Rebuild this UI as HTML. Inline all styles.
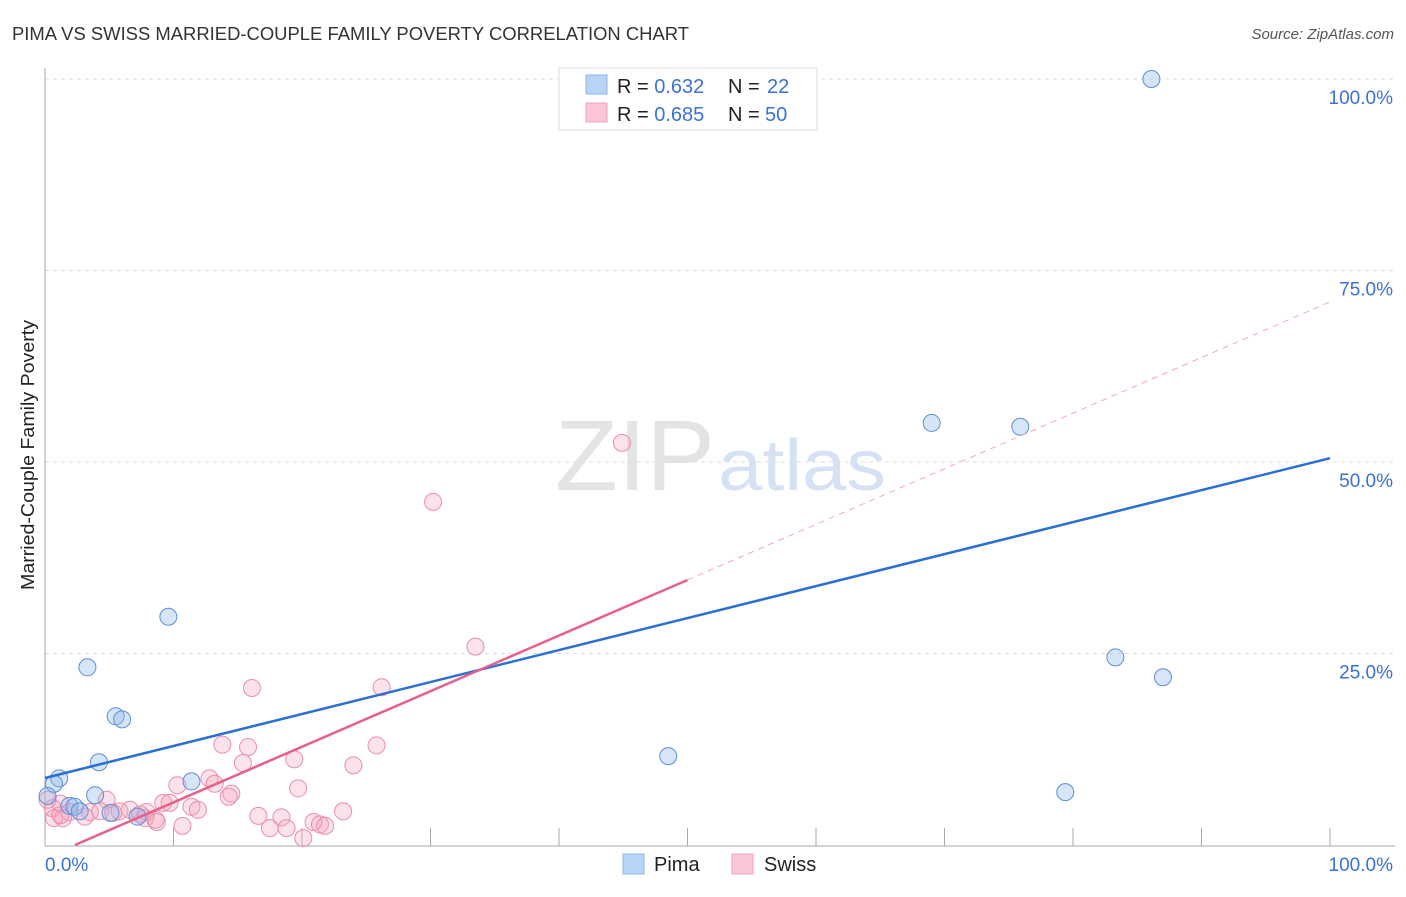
<!DOCTYPE html>
<html><head><meta charset="utf-8"><style>
body{margin:0;background:#fff;font-family:"Liberation Sans",sans-serif}
svg text{font-family:"Liberation Sans",sans-serif}
</style></head><body>
<svg id="c" width="1406" height="892" xmlns="http://www.w3.org/2000/svg">
<text x="12" y="40" font-size="18" fill="#333" textLength="677" lengthAdjust="spacingAndGlyphs">PIMA VS SWISS MARRIED-COUPLE FAMILY POVERTY CORRELATION CHART</text>
<text x="1394" y="39" font-size="15" fill="#555" font-style="italic" text-anchor="end">Source: ZipAtlas.com</text>
<text x="34" y="455" font-size="18" fill="#222" text-anchor="middle" textLength="270" lengthAdjust="spacingAndGlyphs" transform="rotate(-90 34 455)">Married-Couple Family Poverty</text>
<text x="555" y="490" font-size="100" fill="#e4e4e4" textLength="160" lengthAdjust="spacingAndGlyphs" font-family="Liberation Serif">ZIP</text>
<text x="718" y="490" font-size="72" fill="#d6e2f4" textLength="168" lengthAdjust="spacingAndGlyphs">atlas</text>
<g id="grid"></g><g id="pts"></g><g id="lines"></g>
<g>
<rect x="559" y="68" width="258" height="62" fill="#fff" stroke="#ddd"/>
<rect x="586" y="75" width="21" height="19" fill="#b8d3f5" stroke="#8fb4e8"/>
<rect x="586" y="103" width="21" height="19" fill="#f8c6d4" stroke="#eea6bc"/>
<text x="617" y="93" font-size="20" fill="#222">R = <tspan fill="#3a72d6">0.632</tspan><tspan x="728">N = </tspan><tspan x="767" fill="#3a72d6">22</tspan></text>
<text x="617" y="121" font-size="20" fill="#222">R = <tspan fill="#3a72d6">0.685</tspan><tspan x="728">N = </tspan><tspan x="765" fill="#3a72d6">50</tspan></text>
</g>
<g>
<rect x="623" y="854" width="21" height="20" fill="#b8d3f5" stroke="#8fb4e8"/>
<text x="654" y="871" font-size="20" fill="#222">Pima</text>
<rect x="732" y="854" width="21" height="20" fill="#f8c6d4" stroke="#eea6bc"/>
<text x="764" y="871" font-size="20" fill="#222">Swiss</text>
</g>
</svg>
<script>
const pimaX=[86.1,69.0,75.9,83.3,87.0,48.5,79.4,9.6,3.3,5.5,6.0,4.2,1.1,0.7,0.2,3.9,1.9,2.3,2.7,5.1,7.2,11.4];
const pimaY=[100,55.1,54.6,24.5,21.9,11.6,6.9,29.8,23.2,16.8,16.4,10.8,8.7,8.0,6.4,6.5,5.1,5.0,4.4,4.2,3.7,8.3];
const swissX=[44.9,30.2,33.5,16.1,26.2,13.8,15.8,25.8,19.4,24.0,15.4,10.3,12.8,13.2,19.7,14.5,14.3,9.2,9.7,11.4,11.9,4.8,6.6,5.8,7.9,1.2,0.6,1.9,3.1,0.7,1.4,3.5,4.3,7.8,8.6,8.7,10.7,16.6,18.4,17.5,18.8,20.9,21.4,21.8,23.2,20.1,0.2,1.2,5.3,7.4];
const swissY=[52.5,44.8,25.9,20.5,20.6,13.1,12.8,13.0,11.2,10.4,10.7,7.8,8.7,8.0,7.4,6.7,6.3,5.5,5.5,5.0,4.6,5.9,4.6,4.4,4.3,5.4,4.8,4.3,3.7,3.5,3.5,4.3,4.4,3.5,3.3,3.0,2.5,3.8,3.6,2.2,2.2,3.0,2.7,2.5,4.4,0.9,5.9,3.9,4.2,4.0];
const yTicks=[25,50,75,100];
const yTickLabels=["25.0%","50.0%","75.0%","100.0%"];
const xTickLabels=["0.0%","100.0%"];
const blueLine=[0,8.75,100,50.5];
const pinkLine=[2.33,0,50,34.6,100,70.9];
const X=v=>45+v*12.85, Y=v=>845-v*7.66;
const ns="http://www.w3.org/2000/svg";
function mk(t,a,p){const e=document.createElementNS(ns,t);for(const k in a)e.setAttribute(k,a[k]);p.appendChild(e);return e;}
const g=document.getElementById('grid');
yTicks.forEach((t,i)=>{
 const l=mk('line',{x1:45,x2:1395,y1:Y(t),y2:Y(t),stroke:'#ddd','stroke-dasharray':'4,4'},g);
 
 
 const tx=mk('text',{x:1393,y:Y(t)+25,'font-size':19,fill:'#3a72d6','text-anchor':'end'},g);tx.textContent=yTickLabels[i];
 
 
});
mk('line',{x1:45,x2:45,y1:68,y2:846,stroke:'#aaa'},g);
mk('line',{x1:45,x2:1395,y1:846,y2:846,stroke:'#aaa'},g);
for(let i=1;i<=10;i++){const l=mk('line',{x1:X(i*10),x2:X(i*10),y1:828,y2:846,stroke:'#aaa'},g);
 
 }
[[0,'start',45],[100,'end',1393]].forEach((d,i)=>{const t=mk('text',{x:d[2],y:871,'font-size':19,fill:'#3a72d6','text-anchor':d[1]},g);t.textContent=xTickLabels[i];
 
 });
const p=document.getElementById('pts');
swissX.forEach((x,i)=>{const c=mk('circle',{cx:X(x),cy:Y(swissY[i]),r:8.5,fill:'rgba(245,160,185,0.3)',stroke:'#eb8fab','stroke-width':1},p);
 
 });
pimaX.forEach((x,i)=>{const c=mk('circle',{cx:X(x),cy:Y(pimaY[i]),r:8.5,fill:'rgba(140,180,235,0.35)',stroke:'#5f8fd8','stroke-width':1},p);
 
 });
const L=document.getElementById('lines');
let b=mk('line',{x1:X(blueLine[0]),y1:Y(blueLine[1]),x2:X(blueLine[2]),y2:Y(blueLine[3]),stroke:'#2a6fd6','stroke-width':2.5},L);


let s=mk('line',{x1:X(pinkLine[0]),y1:Y(pinkLine[1]),x2:X(pinkLine[2]),y2:Y(pinkLine[3]),stroke:'#e8608a','stroke-width':2.5},L);


let d=mk('line',{x1:X(pinkLine[2]),y1:Y(pinkLine[3]),x2:X(pinkLine[4]),y2:Y(pinkLine[5]),stroke:'#eeaabd','stroke-width':1,'stroke-dasharray':'6,5'},L);


</script>
</body></html>
